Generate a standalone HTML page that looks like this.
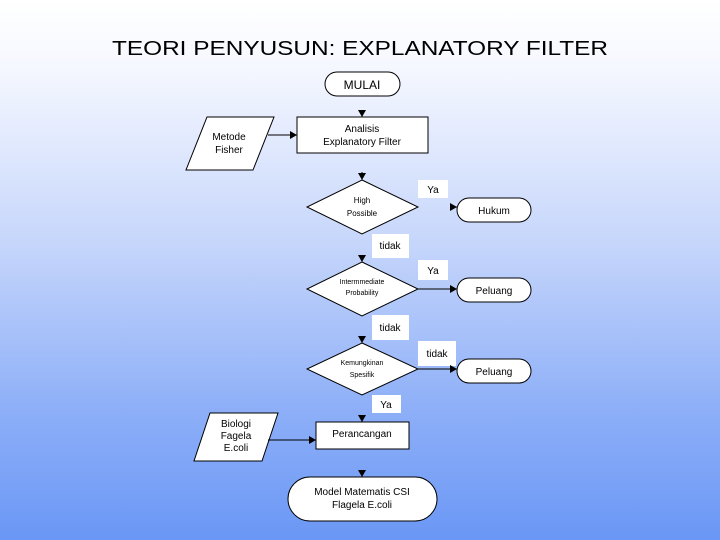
<!DOCTYPE html>
<html><head><meta charset="utf-8"><style>
html,body{margin:0;padding:0;}
body{width:720px;height:540px;overflow:hidden;background:linear-gradient(to bottom,#ffffff 0%,#f6f8ff 12%,#c6d6fb 45%,#8fb0f8 75%,#6a97f5 100%);}
svg{display:block;font-family:"Liberation Sans",sans-serif;}
</style></head><body>
<svg width="720" height="540" viewBox="0 0 720 540" xmlns="http://www.w3.org/2000/svg">
<defs><marker id="a" markerWidth="8" markerHeight="8" refX="7" refY="4" orient="auto" markerUnits="userSpaceOnUse"><path d="M0,0 L7,4 L0,8z" fill="#000"/></marker></defs>
<text x="360" y="55" text-anchor="middle" font-size="20" textLength="496" lengthAdjust="spacingAndGlyphs">TEORI PENYUSUN: EXPLANATORY FILTER</text>
<g fill="#fff" stroke="#000" stroke-width="1">
<rect x="325" y="72" width="75" height="24" rx="12"/>
<rect x="297" y="117" width="131" height="36"/>
<polygon points="207,117 274,117 253,170 186,170"/>
<polygon points="362,180 418,207 362,234 307,207"/>
<rect x="457" y="198" width="74" height="24" rx="12"/>
<polygon points="362,262 418,289 362,316 307,289"/>
<rect x="457" y="278" width="74" height="24" rx="12"/>
<polygon points="362,343 418,369 362,395 307,369"/>
<rect x="457" y="359" width="74" height="24" rx="12"/>
<rect x="316" y="422" width="93" height="27"/>
<polygon points="210,413 278,413 262,461 194,461"/>
<rect x="288" y="477" width="149" height="44" rx="22"/>
</g>
<g fill="#fff">
<rect x="418" y="180" width="30" height="18"/>
<rect x="372" y="234" width="37" height="24"/>
<rect x="418" y="260" width="30" height="20"/>
<rect x="372" y="315" width="37" height="25"/>
<rect x="418" y="341" width="38" height="25"/>
<rect x="372" y="395" width="29" height="18"/>
</g>
<g stroke="#000" stroke-width="1" fill="none" marker-end="url(#a)">
<line x1="268" y1="135" x2="297" y2="135"/>
<line x1="362" y1="110" x2="362" y2="117"/>
<line x1="362" y1="172" x2="362" y2="180"/>
<line x1="451" y1="207" x2="457" y2="207"/>
<line x1="362" y1="255" x2="362" y2="262"/>
<line x1="418" y1="289" x2="457" y2="289"/>
<line x1="362" y1="336" x2="362" y2="343"/>
<line x1="418" y1="369" x2="457" y2="369"/>
<line x1="362" y1="415" x2="362" y2="422"/>
<line x1="268" y1="440" x2="316" y2="440"/>
<line x1="362" y1="470" x2="362" y2="477"/>
</g>
<g font-size="10" text-anchor="middle" fill="#000">
<text x="362" y="89" font-size="12">MULAI</text>
<text x="362" y="132">Analisis</text>
<text x="362" y="145">Explanatory Filter</text>
<text x="229" y="140">Metode</text>
<text x="229" y="153">Fisher</text>
<text x="362" y="203" font-size="8">High</text>
<text x="362" y="216" font-size="8">Possible</text>
<text x="433" y="193">Ya</text>
<text x="494" y="214">Hukum</text>
<text x="390" y="249">tidak</text>
<text x="362" y="284" font-size="7">Intermmediate</text>
<text x="362" y="295" font-size="7">Probability</text>
<text x="433" y="274">Ya</text>
<text x="494" y="294">Peluang</text>
<text x="390" y="331">tidak</text>
<text x="362" y="365" font-size="7">Kemungkinan</text>
<text x="362" y="377" font-size="7">Spesifik</text>
<text x="437" y="357">tidak</text>
<text x="494" y="375">Peluang</text>
<text x="386" y="408">Ya</text>
<text x="362" y="437">Perancangan</text>
<text x="236" y="427">Biologi</text>
<text x="236" y="439">Fagela</text>
<text x="236" y="451">E.coli</text>
<text x="362" y="495">Model Matematis CSI</text>
<text x="362" y="508">Flagela E.coli</text>
</g>
</svg>
</body></html>
